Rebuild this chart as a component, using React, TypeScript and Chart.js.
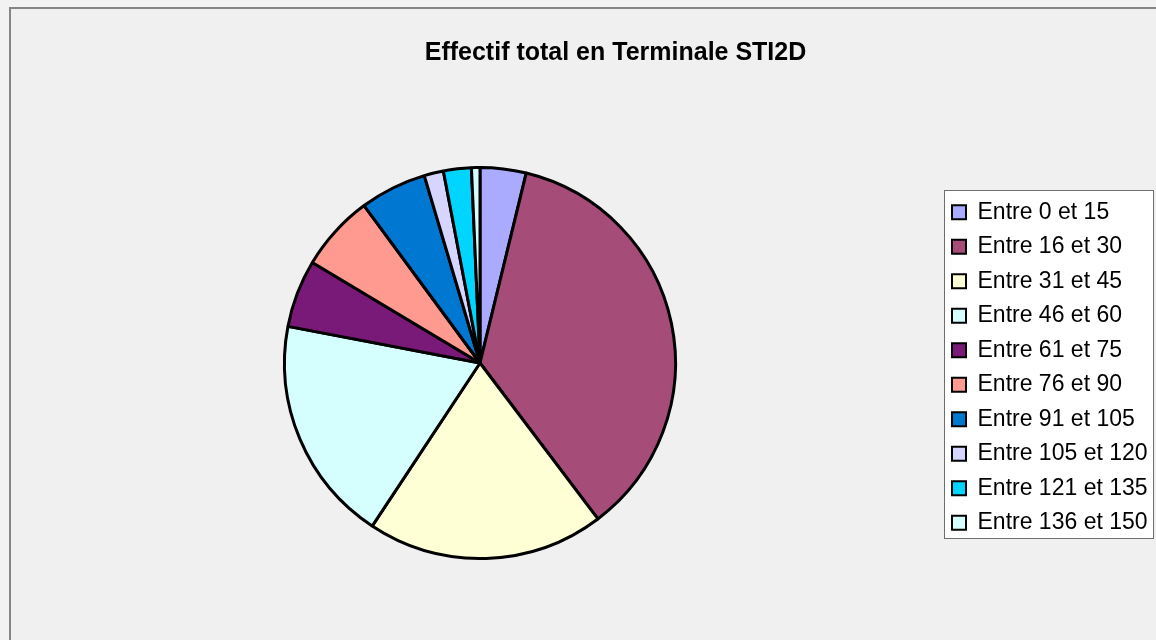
import React, { useEffect, useRef } from 'react';
import { Chart, registerables } from 'chart.js';

Chart.register(...registerables);

// ---- data ----
const categories = [
  'Entre 0 et 15',
  'Entre 16 et 30',
  'Entre 31 et 45',
  'Entre 46 et 60',
  'Entre 61 et 75',
  'Entre 76 et 90',
  'Entre 91 et 105',
  'Entre 105 et 120',
  'Entre 121 et 135',
  'Entre 136 et 150',
];
const values = [3.8, 35.9, 19.6, 18.7, 5.6, 6.3, 5.5, 1.6, 2.3, 0.7];
const sliceColors = [
  '#AAAAFF',
  '#A64C79',
  '#FFFFD5',
  '#D5FFFF',
  '#7A1A78',
  '#FF9A91',
  '#0078D2',
  '#D5D5FF',
  '#00D5FF',
  '#D5FFFF',
];
const chartTitle = 'Effectif total en Terminale STI2D';

// ---- layout constants ----
const W = 1209;
const H = 650;
const FONT = '"Liberation Sans", Arial, Helvetica, sans-serif';
const LEGEND_FONT_SIZE = 23;
const LEGEND_PAD = 11.5;
const BOX = 14;
const LEGEND_LEFT = 929.5;

const framePlugin = {
  id: 'legendFrame',
  afterLayout(chart: any) {
    const t = chart.titleBlock;
    if (t) {
      t.left = 0;
      t.right = chart.width;
      t.width = chart.width;
    }
  },
  beforeDraw(chart: any) {
    const lg = chart.legend;
    if (!lg || !lg.legendHitBoxes || !lg.legendHitBoxes.length) return;
    const hb = lg.legendHitBoxes;
    const last = hb[hb.length - 1];
    const left = hb[0].left - 8;
    const top = hb[0].top - 10.75;
    const bottom = last.top + last.height + 3.75;
    const right = Math.max(...hb.map((b: any) => b.left + b.width)) + 5;
    const ctx = chart.ctx;
    const x0 = Math.round(left) + 0.5;
    const y0 = Math.round(top) + 0.5;
    const x1 = Math.round(right) + 0.5;
    const y1 = Math.round(bottom) + 0.5;
    ctx.save();
    ctx.fillStyle = '#ffffff';
    ctx.fillRect(x0, y0, x1 - x0, y1 - y0);
    ctx.strokeStyle = '#6e6e6e';
    ctx.lineWidth = 1;
    ctx.strokeRect(x0, y0, x1 - x0, y1 - y0);
    ctx.restore();
  },
};

export default function App() {
  const ref = useRef<HTMLCanvasElement | null>(null);

  useEffect(() => {
    if (!ref.current) return;
    const mctx = document.createElement('canvas').getContext('2d') as CanvasRenderingContext2D;
    mctx.font = `normal ${LEGEND_FONT_SIZE}px ${FONT}`;
    const textW = Math.max(...categories.map((c) => mctx.measureText(c).width));
    const legendWidth = LEGEND_PAD + BOX + LEGEND_FONT_SIZE / 2 + textW + 10;
    const padRight = W - LEGEND_LEFT - legendWidth;

    const defaultGen = (Chart as any).overrides.pie.plugins.legend.labels.generateLabels;

    const chart = new Chart(ref.current, {
      type: 'pie',
      data: {
        labels: categories,
        datasets: [
          {
            data: values,
            backgroundColor: sliceColors,
            borderColor: '#000000',
            borderWidth: 3,
            radius: 195.5,
          } as any,
        ],
      },
      options: {
        responsive: false,
        animation: false,
        events: [],
        layout: { padding: { left: 8.5, right: padRight, top: 0, bottom: 62 } },
        plugins: {
          title: {
            display: true,
            text: chartTitle,
            color: '#000000',
            font: { family: FONT, size: 25, weight: 'bold', lineHeight: 1.2 },
            padding: { top: 29, bottom: 61 },
          },
          legend: {
            position: 'right',
            fullSize: false,
            align: 'center',
            title: {
              display: true,
              text: '',
              font: { size: 1, lineHeight: 1 },
              padding: { top: 8, bottom: 0 },
            },
            labels: {
              boxWidth: BOX,
              boxHeight: BOX,
              padding: LEGEND_PAD,
              color: '#000000',
              font: { family: FONT, size: LEGEND_FONT_SIZE },
              generateLabels: (c: any) =>
                defaultGen(c).map((l: any) => ({ ...l, lineWidth: 2, strokeStyle: '#000000' })),
            },
          },
          tooltip: { enabled: false },
        },
      } as any,
      plugins: [framePlugin],
    });
    return () => chart.destroy();
  }, []);

  return (
    <div
      style={{
        position: 'fixed',
        left: 0,
        top: 0,
        width: 1156,
        height: 640,
        overflow: 'hidden',
        background: '#f2f2f2',
      }}
    >
      <div
        style={{
          position: 'absolute',
          left: 9,
          top: 7,
          width: 1300,
          height: 700,
          borderLeft: '2px solid #858585',
          borderTop: '2px solid #858585',
          background: '#f0f0f0',
        }}
      >
        <canvas
          ref={ref}
          width={W}
          height={H}
          style={{ position: 'absolute', left: 0, top: 0, width: W, height: H }}
        />
      </div>
    </div>
  );
}
